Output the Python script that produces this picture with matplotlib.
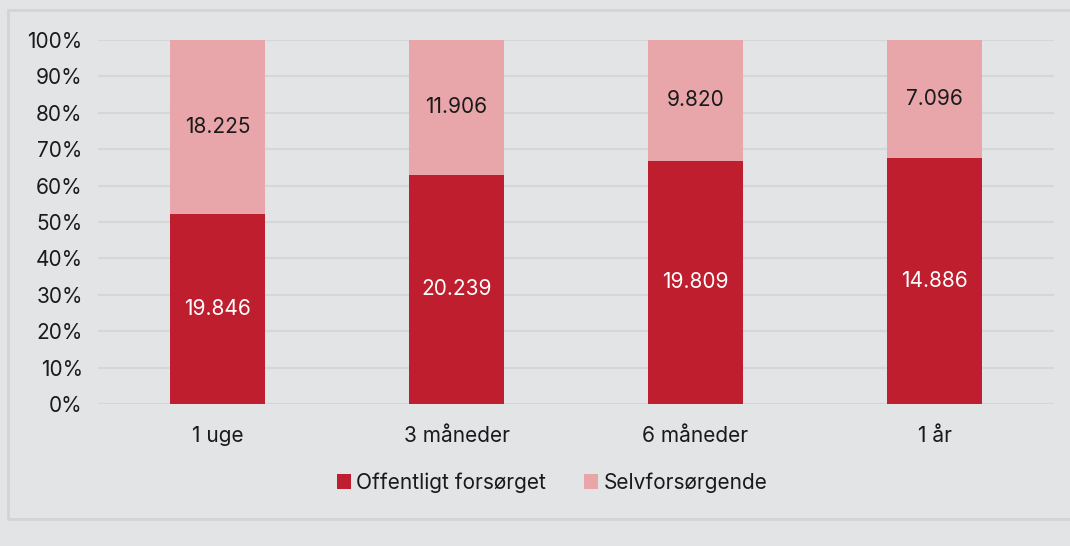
import numpy as np
import matplotlib.pyplot as plt
from matplotlib.patches import Rectangle

plt.rcParams['font.family'] = ['Inter', 'DejaVu Sans']

categories = ['1 uge', '3 måneder', '6 måneder', '1 år']
offentligt = [19846, 20239, 19809, 14886]
selvforsorgende = [18225, 11906, 9820, 7096]
yticks = [0, 10, 20, 30, 40, 50, 60, 70, 80, 90, 100]

dark_red = '#be1e2d'
pink = '#e8a5aa'
bg = '#e3e4e6'
fs = 15

off = np.array(offentligt, dtype=float)
selv = np.array(selvforsorgende, dtype=float)
tot = off + selv
off_pct = off / tot * 100
selv_pct = selv / tot * 100

fig = plt.figure(figsize=(10.7, 5.46), dpi=100, facecolor=bg)
fig.patches.append(Rectangle((8 / 1070, 1 - 519 / 546), 1.2, (519 - 10) / 546,
                             transform=fig.transFigure, fill=False,
                             edgecolor='#d3d4d6', lw=2, zorder=0))
ax = fig.add_axes([98 / 1070, 1 - 404 / 546, (1054 - 98) / 1070, 364 / 546])
ax.set_facecolor(bg)

x = np.arange(len(categories))
w = 0.4
ax.bar(x, off_pct, w, color=dark_red, label='Offentligt forsørget', zorder=3)
ax.bar(x, selv_pct, w, bottom=off_pct, color=pink, label='Selvforsørgende', zorder=3)

def fmt(v):
    return f'{v:,}'.replace(',', '.')

for i in range(len(categories)):
    ax.text(x[i], off_pct[i] / 2, fmt(offentligt[i]), ha='center', va='center',
            color='white', fontsize=fs, zorder=4)
    ax.text(x[i], off_pct[i] + selv_pct[i] / 2, fmt(selvforsorgende[i]), ha='center',
            va='center', color='#1a1a1a', fontsize=fs, zorder=4)

ax.set_xlim(-0.5, len(categories) - 0.5)
ax.set_ylim(0, 100)
ax.set_yticks(yticks)
ax.set_yticklabels([f'{t}%' for t in yticks])
ax.set_xticks(x)
ax.set_xticklabels(categories)
ax.tick_params(axis='both', length=0, labelsize=fs, labelcolor='#1a1a1a')
ax.tick_params(axis='y', pad=11)
ax.tick_params(axis='x', pad=16)
ax.grid(axis='y', color='#d5d6d8', lw=1.5, zorder=0)
for s in ax.spines.values():
    s.set_visible(False)

ax.legend(loc='center', bbox_to_anchor=(0.475, -0.215), ncol=2, frameon=False,
          fontsize=fs, handlelength=0.7, handleheight=0.7, handletextpad=0.25,
          columnspacing=1.8, labelcolor='#1a1a1a')

plt.savefig('out.png', dpi=100, facecolor=bg)
